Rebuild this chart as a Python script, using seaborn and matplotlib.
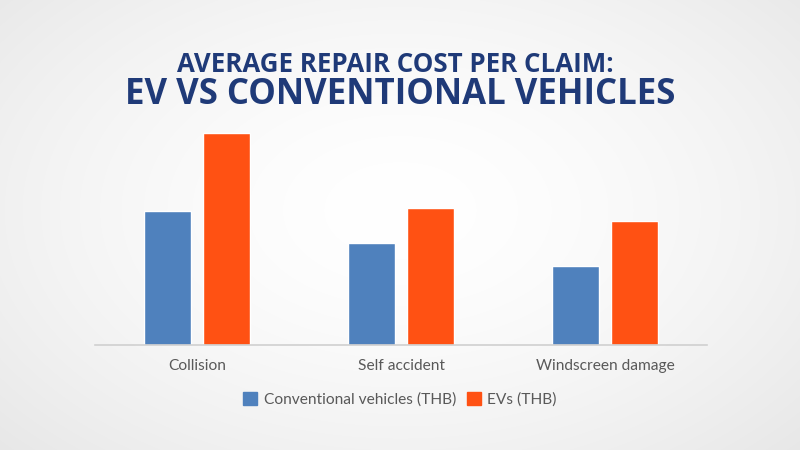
import pandas as pd
import matplotlib.pyplot as plt
import matplotlib.patches as mpatches
import seaborn as sns
import numpy as np

# values (relative bar heights, the chart shows no axis)
categories = ['Collision', 'Self accident', 'Windscreen damage']
conventional = [134, 102, 79]
evs = [212, 137, 124]
series_names = ['Conventional vehicles (THB)', 'EVs (THB)']

df = pd.DataFrame({
    'Claim': categories * 2,
    'Cost': conventional + evs,
    'Vehicle': [series_names[0]] * 3 + [series_names[1]] * 3,
})

blue = '#4f81bd'
orange = '#ff5113'
navy = '#1f3a78'
grey_text = '#595959'
line_grey = '#d0d0d0'

sns.set_style('white')
plt.rcParams['font.family'] = ['Lato', 'DejaVu Sans']

fig = plt.figure(figsize=(8, 4.5), dpi=100)

# radial background
bg = fig.add_axes([0, 0, 1, 1], zorder=-10)
yy, xx = np.mgrid[0:450, 0:800]
r = np.sqrt(((xx - 400) / 520) ** 2 + ((yy - 210) / 330) ** 2)
shade = 1.0 - 0.085 * np.clip(r, 0, 1.3) ** 1.6
bg.imshow(np.dstack([shade] * 3), aspect='auto', extent=[0, 1, 0, 1])
bg.axis('off')

ax = fig.add_axes([95 / 800, 1 - 345 / 450, 612 / 800, 220 / 450])
ax.patch.set_alpha(0)
sns.barplot(data=df, x='Claim', y='Cost', hue='Vehicle',
            palette=[blue, orange], saturation=1,
            width=0.58, gap=0.2, legend=False, ax=ax)

ax.set_xlim(-0.5, 2.5)
ax.set_ylim(0, 220)
ax.set_xlabel('')
ax.set_ylabel('')
ax.set_yticks([])
for side in ['top', 'right', 'left']:
    ax.spines[side].set_visible(False)
ax.spines['bottom'].set_color(line_grey)
ax.spines['bottom'].set_linewidth(1.2)
ax.tick_params(axis='x', which='major', length=0, pad=10,
               labelsize=11.2, labelcolor=grey_text)
ax.set_xticks([-0.5, 0.5, 1.5, 2.5], minor=True)
ax.tick_params(axis='x', which='minor', length=5, width=1.2, color=line_grey)

handles = [mpatches.Patch(color=blue, label=series_names[0]),
           mpatches.Patch(color=orange, label=series_names[1])]
fig.legend(handles=handles, loc='center', bbox_to_anchor=(400 / 800, 1 - 399 / 450),
           ncol=2, frameon=False, fontsize=11.2, labelcolor=grey_text,
           handlelength=0.9, handleheight=0.9, handletextpad=0.4,
           columnspacing=0.7)

fig.text(395 / 800, 1 - 65 / 450, 'AVERAGE REPAIR COST PER CLAIM:',
         ha='center', va='center', fontsize=18.6, color=navy,
         family=['Open Sans', 'DejaVu Sans'], weight='bold')
fig.text(400 / 800, 1 - 95 / 450, 'EV VS CONVENTIONAL VEHICLES',
         ha='center', va='center', fontsize=25, color=navy,
         family=['Open Sans', 'DejaVu Sans'], weight='bold')

fig.savefig('out.png', dpi=100)
